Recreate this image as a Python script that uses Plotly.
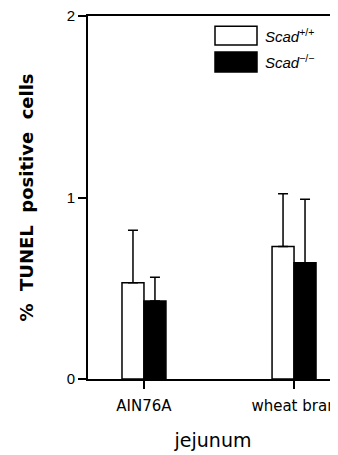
import plotly.graph_objects as go

categories = ["AIN76A", "wheat bran"]
scad_wt = [0.53, 0.73]
scad_wt_err = [0.29, 0.29]
scad_ko = [0.43, 0.64]
scad_ko_err = [0.13, 0.35]
series_names = ["Scad<sup>+/+</sup>", "Scad<sup>−/−</sup>"]
y_ticks = [0, 1, 2]

fig = go.Figure()
fig.add_trace(go.Bar(
    x=categories, y=scad_wt, name=series_names[0],
    marker=dict(color="white", line=dict(color="black", width=1.5)),
    error_y=dict(type="data", array=scad_wt_err, arrayminus=[0]*len(scad_wt),
                 symmetric=False, color="black", thickness=1.5, width=5),
))
fig.add_trace(go.Bar(
    x=categories, y=scad_ko, name=series_names[1],
    marker=dict(color="black", line=dict(color="black", width=1.5)),
    error_y=dict(type="data", array=scad_ko_err, arrayminus=[0]*len(scad_ko),
                 symmetric=False, color="black", thickness=1.5, width=5),
))

# custom legend (large swatches)
legend_rows = [(0.972, 0.920, "white"), (0.901, 0.846, "black")]
for (y1, y0, col), name in zip(legend_rows, series_names):
    fig.add_shape(type="rect", xref="paper", yref="paper",
                  x0=0.508, x1=0.676, y0=y0, y1=y1,
                  line=dict(color="black", width=1.5), fillcolor=col)
    fig.add_annotation(xref="paper", yref="paper", x=0.7, y=(y0 + y1) / 2,
                       xanchor="left", yanchor="middle", showarrow=False,
                       text="<i>" + name.replace("<sup>", "</i><sup>"),
                       font=dict(family="Liberation Sans", size=15, color="black"))

# page body has an 8px margin: figure is shrunk/shifted to compensate
fig.update_layout(
    width=330, height=447,
    margin=dict(l=80, r=0, t=8, b=76),
    paper_bgcolor="white", plot_bgcolor="white",
    showlegend=False,
    barmode="group", bargap=0.707, bargroupgap=0,
    xaxis=dict(
        type="category", range=[-0.373, 1.293],
        showline=True, linecolor="black", linewidth=2, mirror=True,
        ticks="outside", ticklen=8, tickwidth=1.5, tickcolor="black",
        showgrid=False, zeroline=False,
        tickfont=dict(family="DejaVu Sans", size=15, color="black"),
        ticklabelstandoff=4, ticklabeloverflow="allow",
        title=dict(text="jejunum", standoff=20,
                   font=dict(family="DejaVu Sans", size=19, color="black")),
    ),
    yaxis=dict(
        range=[0, 2], tickvals=y_ticks,
        showline=True, linecolor="black", linewidth=2,
        ticks="outside", ticklen=8, tickwidth=2, tickcolor="black",
        showgrid=False, zeroline=False, ticklabeloverflow="allow",
        tickfont=dict(family="Liberation Sans", size=15, color="black"),
        title=dict(text="%  TUNEL  positive  cells", standoff=28,
                   font=dict(family="DejaVu Sans", size=18, color="black",
                             weight="bold")),
    ),
)

fig.write_html("out.html")
